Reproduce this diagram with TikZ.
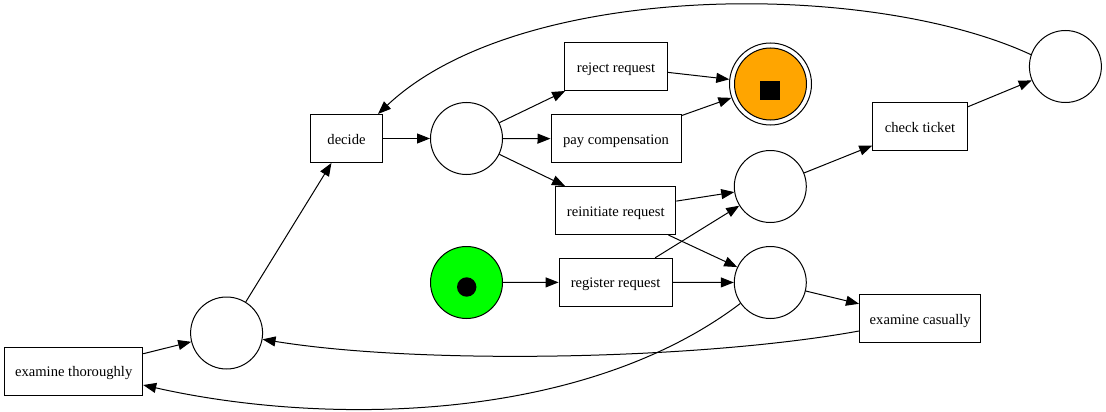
\documentclass[tikz,border=0pt]{standalone}
\usepackage{fontspec}
\setmainfont{Liberation Serif}
\usetikzlibrary{arrows.meta,calc}
\definecolor{startgreen}{HTML}{00FF00}
\definecolor{endorange}{HTML}{FFA500}
\begin{document}
\begin{tikzpicture}[x=1pt,y=-1pt,
  trans/.style={draw, rectangle, line width=1pt, inner sep=0pt, minimum height=48pt, text height=14pt, text depth=2.8pt, font=\fontsize{14.6}{16}\selectfont},
  place/.style={draw, circle, line width=1pt, inner sep=0pt, minimum size=72pt, fill=white},
  arc/.style={line width=1pt, -{Triangle[length=13pt,width=10pt]}}]
\useasboundingbox (0,0) rectangle (1106,412);

% transitions
\node[trans, minimum width=138pt] (et) at (73.7,371) {examine thoroughly};
\node[trans, minimum width=72pt] (decide) at (346.5,138.5) {decide};
\node[trans, minimum width=103pt] (reject) at (616,66.5) {reject request};
\node[trans, minimum width=130pt] (pay) at (616,138.8) {pay compensation};
\node[trans, minimum width=120pt] (reinit) at (615.8,210.5) {reinitiate request};
\node[trans, minimum width=113pt] (register) at (615.6,282.3) {register request};
\node[trans, minimum width=94.5pt] (check) at (920,126.5) {check ticket};
\node[trans, minimum width=121.4pt] (ec) at (920.2,318.5) {examine casually};

% places
\node[place] (pl) at (226.6,333) {};
\node[place] (pm) at (466.5,138.5) {};
\node[place, fill=startgreen] (start) at (466.5,282.5) {};
\node[place] (pA) at (770.3,186.5) {};
\node[place] (pB) at (770.3,282.5) {};
\node[place] (pR) at (1065.4,66.5) {};
\node[draw, circle, line width=1pt, inner sep=0pt, minimum size=82pt] (final) at (770.5,84) {};
\node[place, fill=endorange] (finalin) at (770.5,84) {};

% tokens
\node[circle, fill=black, inner sep=0pt, minimum size=19.4pt] (token) at (466.7,287) {};
\node[rectangle, fill=black, inner sep=0pt, minimum size=19.4pt] (stopmark) at (770,90.3) {};

% arcs
\draw[arc] (et) -- (pl);
\draw[arc] (pl) -- (decide);
\draw[arc] (decide) -- (pm);
\draw[arc] (pm) -- (reject);
\draw[arc] (pm) -- (pay);
\draw[arc] (pm) -- (reinit);
\draw[arc] (reject) -- (final);
\draw[arc] (pay) -- (final);
\draw[arc] (reinit) -- (pA);
\draw[arc] (reinit) -- (pB);
\draw[arc] (start) -- (register);
\draw[arc] (register) -- (pA);
\draw[arc] (register) -- (pB);
\draw[arc] (pA) -- (check);
\draw[arc] (check) -- (pR);
\draw[arc] (pB) -- (ec);
\draw[arc] (pR.161) .. controls (870,-20) and (520,-20) .. ($(decide.north east)+(-5,0)$);
\draw[arc] ($(ec.west)+(0,12.5)$) .. controls (700,360) and (420,365) .. (pl.-10);
\draw[arc] (pB.215) .. controls (580,425) and (320,425) .. ($(et.east)+(0,14)$);
\end{tikzpicture}
\end{document}
